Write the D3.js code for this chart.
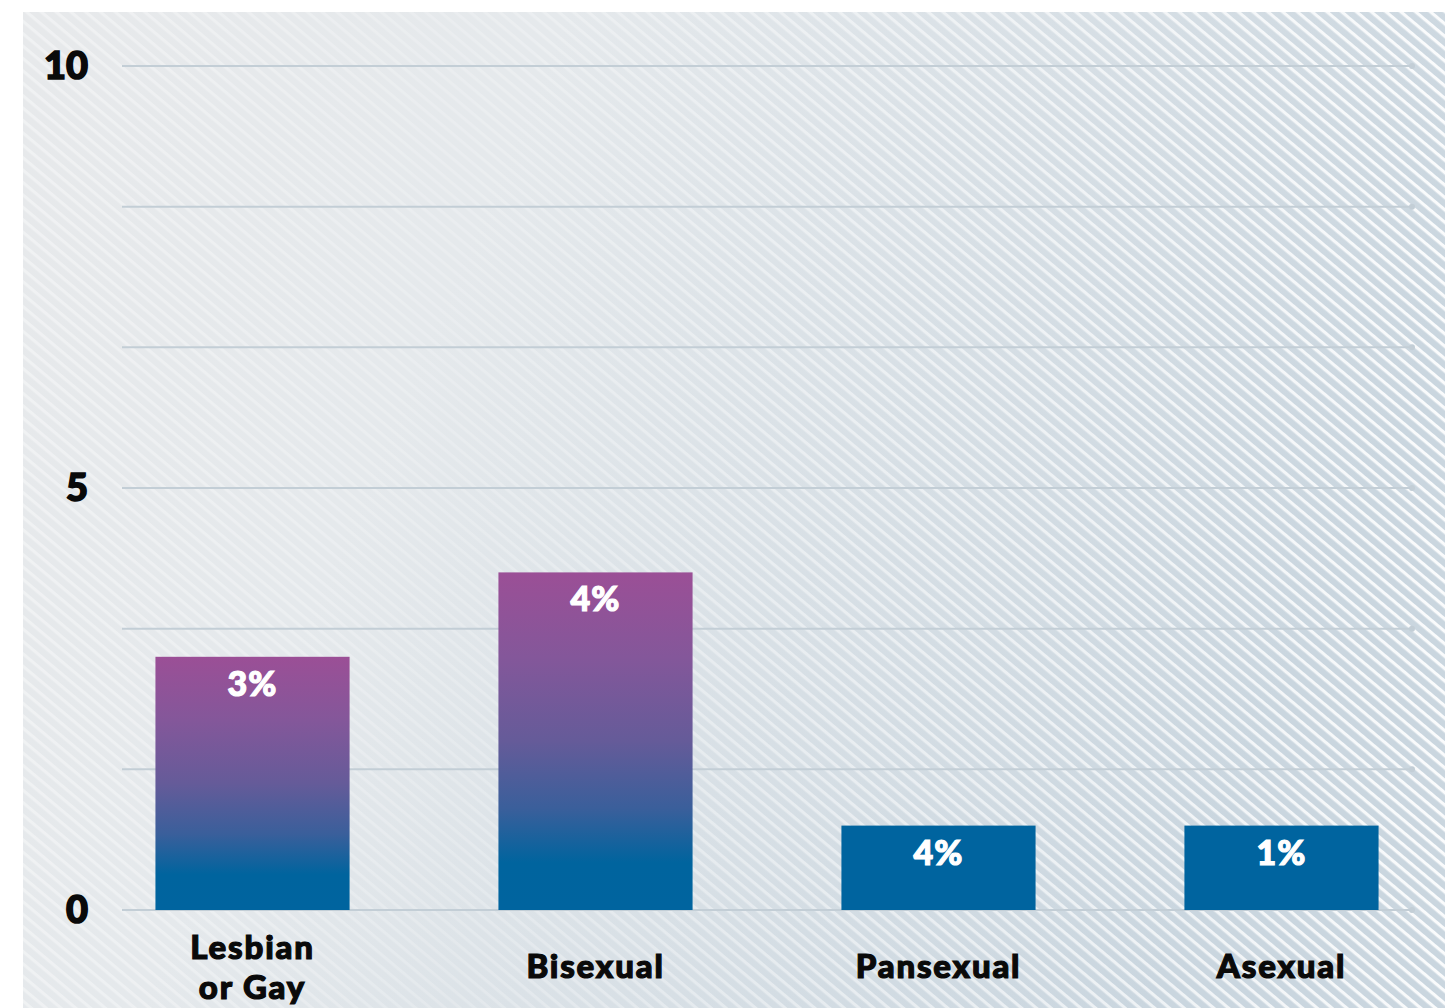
<!DOCTYPE html>
<html>
<head>
<meta charset="UTF-8">
<title>Orientation</title>
<script src="https://d3js.org/d3.v7.min.js"></script>
<style>
  body { margin: 0; background: #fff; }
  svg { display: block; }
  text { font-family: Lato, "DejaVu Sans", sans-serif; font-weight: 900; }
</style>
</head>
<body>
<div id="chart"></div>
<script>
const categories = [["Lesbian", "or Gay"], ["Bisexual"], ["Pansexual"], ["Asexual"]];
const values = [3, 4, 1, 1];
const barLabels = ["3%", "4%", "4%", "1%"];
const tickValues = [0, 5, 10];
const gridValues = [0, 10 / 6, 20 / 6, 5, 40 / 6, 50 / 6, 10];

const width = 1445, height = 1008;
const svg = d3.select("#chart").append("svg")
  .attr("width", width).attr("height", height);

const defs = svg.append("defs");

// background tones
const bg = defs.append("linearGradient").attr("id", "bg")
  .attr("x1", 0).attr("y1", 0).attr("x2", 1).attr("y2", 0.3);
bg.append("stop").attr("offset", 0).attr("stop-color", "#e7e9eb");
bg.append("stop").attr("offset", 0.35).attr("stop-color", "#e5e9ec");
bg.append("stop").attr("offset", 1).attr("stop-color", "#cad6df");

const stripes = defs.append("pattern").attr("id", "stripes")
  .attr("patternUnits", "userSpaceOnUse")
  .attr("width", 20).attr("height", 9.5)
  .attr("patternTransform", "rotate(40)");
stripes.append("rect").attr("width", 20).attr("height", 3.2).attr("fill", "#fff");

const fade = defs.append("linearGradient").attr("id", "fade")
  .attr("x1", 0).attr("y1", 0).attr("x2", 1).attr("y2", 0);
fade.append("stop").attr("offset", 0).attr("stop-color", "#fff").attr("stop-opacity", 0.4);
fade.append("stop").attr("offset", 0.3).attr("stop-color", "#fff").attr("stop-opacity", 0.2);
fade.append("stop").attr("offset", 1).attr("stop-color", "#fff").attr("stop-opacity", 0.9);
defs.append("mask").attr("id", "fadeMask")
  .append("rect").attr("x", 23).attr("y", 12)
  .attr("width", width - 23).attr("height", height - 12).attr("fill", "url(#fade)");

const barGrad = defs.append("linearGradient").attr("id", "barGrad")
  .attr("x1", 0).attr("y1", 0).attr("x2", 0).attr("y2", 1);
barGrad.append("stop").attr("offset", 0).attr("stop-color", "#9b4f96");
barGrad.append("stop").attr("offset", 0.25).attr("stop-color", "#84579a");
barGrad.append("stop").attr("offset", 0.5).attr("stop-color", "#655b99");
barGrad.append("stop").attr("offset", 0.7).attr("stop-color", "#3a5f9b");
barGrad.append("stop").attr("offset", 0.86).attr("stop-color", "#00649e");
barGrad.append("stop").attr("offset", 1).attr("stop-color", "#00649f");

svg.append("rect").attr("x", 23).attr("y", 12)
  .attr("width", width - 23).attr("height", height - 12).attr("fill", "url(#bg)");
svg.append("rect").attr("x", 23).attr("y", 12)
  .attr("width", width - 23).attr("height", height - 12)
  .attr("fill", "url(#stripes)").attr("mask", "url(#fadeMask)");

const x = d3.scaleBand()
  .domain(d3.range(categories.length))
  .range([122, 1412])
  .paddingInner(0.434)
  .paddingOuter(0.0975);

const y = d3.scaleLinear().domain([0, 10]).range([910, 66]);

// grid
const grid = svg.append("g");
grid.selectAll("line").data(gridValues).join("line")
  .attr("x1", 122).attr("x2", 1412)
  .attr("y1", d => y(d)).attr("y2", d => y(d))
  .attr("stroke", "#c3ced6").attr("stroke-width", 2);
grid.selectAll("circle").data(gridValues).join("circle")
  .attr("cx", 1412).attr("cy", d => y(d)).attr("r", 3)
  .attr("fill", "#c3ced6");

// y axis labels
const yAxis = svg.append("g").attr("transform", "translate(88,0)")
  .call(d3.axisLeft(y).tickValues(tickValues).tickSize(0).tickPadding(0));
yAxis.select(".domain").remove();
yAxis.selectAll("text")
  .attr("font-size", 38).attr("fill", "#0a0a0a")
  .attr("stroke", "#0a0a0a").attr("stroke-width", 1.6)
  .attr("font-family", "Lato, sans-serif").attr("font-weight", 900);

// bars
svg.selectAll(".bar").data(values).join("rect")
  .attr("class", "bar")
  .attr("x", (d, i) => x(i))
  .attr("y", d => y(d))
  .attr("width", x.bandwidth())
  .attr("height", d => y(0) - y(d))
  .attr("fill", d => d > 2 ? "url(#barGrad)" : "#00649f");

svg.selectAll(".val").data(values).join("text")
  .attr("class", "val")
  .attr("x", (d, i) => x(i) + x.bandwidth() / 2)
  .attr("y", d => y(d) + 39)
  .attr("text-anchor", "middle")
  .attr("font-size", 34).attr("fill", "#fff")
  .attr("stroke", "#fff").attr("stroke-width", 1.2)
  .attr("letter-spacing", 1)
  .text((d, i) => barLabels[i]);

// category labels
const cat = svg.selectAll(".cat").data(categories).join("text")
  .attr("class", "cat")
  .attr("x", (d, i) => x(i) + x.bandwidth() / 2)
  .attr("y", d => d.length > 1 ? 959 : 978)
  .attr("text-anchor", "middle")
  .attr("font-size", 33).attr("fill", "#0a0a0a")
  .attr("stroke", "#0a0a0a").attr("stroke-width", 1.2)
  .attr("letter-spacing", 1.8);
cat.selectAll("tspan").data(d => d).join("tspan")
  .attr("x", function () { return this.parentNode.getAttribute("x"); })
  .attr("dy", (d, i) => i === 0 ? 0 : 40)
  .text(d => d);
</script>
</body>
</html>
